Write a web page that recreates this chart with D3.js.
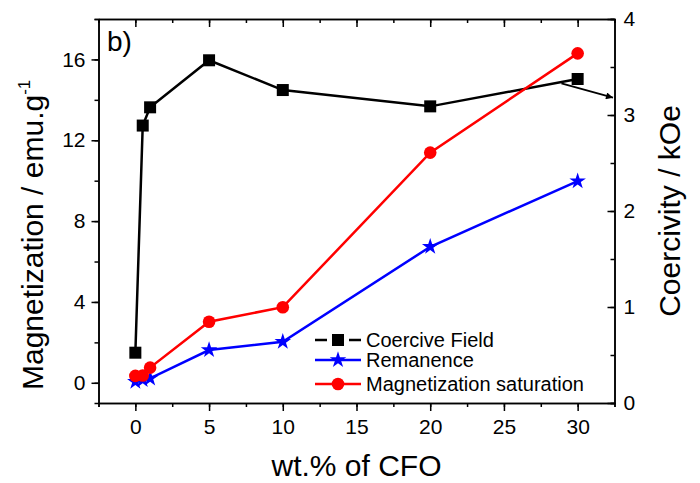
<!DOCTYPE html>
<html>
<head>
<meta charset="utf-8">
<script src="https://cdn.jsdelivr.net/npm/d3@7"></script>
<style>
  body { margin: 0; background: #fff; }
  svg { font-family: "Liberation Sans", Arial, sans-serif; }
  .domain { stroke-width: 1.5px; }
  .tick line { stroke-width: 1.5px; }
</style>
</head>
<body>
<svg id="chart" width="700" height="483"></svg>
<script>
// values
var wt = [0, 0.5, 1, 5, 10, 20, 30];
var coercive = [0.524, 2.89, 3.08, 3.57, 3.26, 3.09, 3.375];   // kOe, right axis
var remanence = [0.05, 0.14, 0.22, 1.62, 2.03, 6.73, 9.98];    // emu/g
var msat = [0.34, 0.36, 0.75, 3.02, 3.74, 11.39, 16.3];        // emu/g
var xTicks = [0, 5, 10, 15, 20, 25, 30];
var leftTicks = [0, 4, 8, 12, 16];
var rightTicks = [0, 1, 2, 3, 4];
var arrowFrom = [28.9, 3.33], arrowTo = [32.4, 3.18];
var legendNames = ["Coercive Field", "Remanence", "Magnetization saturation"];

var svg = d3.select("#chart");
var pLeft = 98.5, pRight = 614.5, pTop = 19, pBottom = 403;

var x = d3.scaleLinear().domain([-2.5, 32.5]).range([pLeft, pRight]);
var yL = d3.scaleLinear().domain([-1, 18]).range([pBottom, pTop]);
var yR = d3.scaleLinear().domain([0, 4]).range([pBottom, pTop]);

function drawAxes() {
  // minor ticks first
  svg.append("g").attr("transform", "translate(0," + pBottom + ")")
    .call(d3.axisBottom(x).tickValues(d3.range(-2.5, 32.6, 2.5)).tickSize(4).tickFormat(""));
  svg.append("g").attr("transform", "translate(0," + pTop + ")")
    .call(d3.axisTop(x).tickValues(d3.range(-2.5, 32.6, 2.5)).tickSize(-4).tickFormat(""));
  svg.append("g").attr("transform", "translate(" + pLeft + ",0)")
    .call(d3.axisLeft(yL).tickValues(d3.range(0, 18.1, 2)).tickSize(4).tickFormat(""));
  svg.append("g").attr("transform", "translate(" + pRight + ",0)")
    .call(d3.axisRight(yR).tickValues(d3.range(0, 4.01, 0.5)).tickSize(-4).tickFormat(""));

  // major ticks with labels
  svg.append("g").attr("class", "xAxis").attr("transform", "translate(0," + pBottom + ")")
    .call(d3.axisBottom(x).tickValues(xTicks).tickSize(8).tickPadding(8).tickSizeOuter(0));
  svg.append("g").attr("transform", "translate(0," + pTop + ")")
    .call(d3.axisTop(x).tickValues(xTicks).tickSize(-8).tickFormat("").tickSizeOuter(0));
  svg.append("g").attr("class", "yAxis").attr("transform", "translate(" + pLeft + ",0)")
    .call(d3.axisLeft(yL).tickValues(leftTicks).tickSize(7).tickPadding(6).tickSizeOuter(0));
  svg.append("g").attr("class", "yAxis").attr("transform", "translate(" + pRight + ",0)")
    .call(d3.axisRight(yR).tickValues(rightTicks).tickFormat(d3.format("d"))
      .tickSizeInner(-7).tickPadding(9).tickSizeOuter(0));

  svg.selectAll(".tick text").attr("font-size", 21).attr("font-family", "Liberation Sans, Arial, sans-serif").attr("fill", "#000");
  svg.selectAll(".domain").attr("stroke", "#000");
}

function marker(g, kind, cx, cy, color) {
  if (kind == "square") {
    g.append("rect").attr("x", cx - 6).attr("y", cy - 6).attr("width", 12).attr("height", 12).attr("fill", color);
  } else if (kind == "star") {
    g.append("path").attr("d", d3.symbol().type(d3.symbolStar).size(85)())
      .attr("transform", "translate(" + cx + "," + cy + ")").attr("fill", color);
  } else {
    g.append("circle").attr("cx", cx).attr("cy", cy).attr("r", 6.3).attr("fill", color);
  }
}

function drawSeries(vals, scale, color, kind) {
  var g = svg.append("g");
  var line = d3.line().x(function(d, i){ return x(wt[i]); }).y(function(d){ return scale(d); });
  g.append("path").datum(vals).attr("d", line).attr("fill", "none")
    .attr("stroke", color).attr("stroke-width", 2.5);
  vals.forEach(function(v, i){ marker(g, kind, x(wt[i]), scale(v), color); });
}

drawAxes();
drawSeries(coercive, yR, "#000", "square");
drawSeries(remanence, yL, "#0000ff", "star");
drawSeries(msat, yL, "#ff0000", "circle");

// arrow pointing to the right axis
svg.append("defs").append("marker").attr("id", "arr")
  .attr("viewBox", "0 0 10 10").attr("refX", 10).attr("refY", 5)
  .attr("markerWidth", 11).attr("markerHeight", 7).attr("orient", "auto")
  .attr("markerUnits", "userSpaceOnUse")
  .append("path").attr("d", "M0,0L10,5L0,10z").attr("fill", "#000");
svg.append("line")
  .attr("x1", x(arrowFrom[0])).attr("y1", yR(arrowFrom[1]))
  .attr("x2", x(arrowTo[0])).attr("y2", yR(arrowTo[1]))
  .attr("stroke", "#000").attr("stroke-width", 1.8).attr("marker-end", "url(#arr)");

// legend
var legY = [340, 360, 384];
var legColors = ["#000", "#0000ff", "#ff0000"];
var legKinds = ["square", "star", "circle"];
legendNames.forEach(function(name, i) {
  var g = svg.append("g");
  if (legKinds[i] == "square") {
    g.append("line").attr("x1", 315).attr("x2", 327).attr("y1", legY[i]).attr("y2", legY[i]).attr("stroke", "#000").attr("stroke-width", 2.5);
    g.append("line").attr("x1", 349).attr("x2", 361).attr("y1", legY[i]).attr("y2", legY[i]).attr("stroke", "#000").attr("stroke-width", 2.5);
  } else {
    g.append("line").attr("x1", 315).attr("x2", 361).attr("y1", legY[i]).attr("y2", legY[i]).attr("stroke", legColors[i]).attr("stroke-width", 2.5);
  }
  marker(g, legKinds[i], 338, legY[i], legColors[i]);
  g.append("text").attr("x", 366).attr("y", legY[i] + 7).attr("font-size", 20).text(name);
});

// panel label and axis titles
svg.append("text").attr("x", 107).attr("y", 51).attr("font-size", 28).text("b)");
svg.append("text").attr("x", (pLeft + pRight) / 2).attr("y", 476).attr("text-anchor", "middle")
  .attr("font-size", 30).text("wt.% of CFO");
var lt = svg.append("text").attr("transform", "translate(43,390) rotate(-90)").attr("font-size", 30);
lt.append("tspan").text("Magnetization / emu.g");
lt.append("tspan").attr("font-size", 17).attr("dy", -13).text("-1");
svg.append("text").attr("transform", "translate(680," + ((pTop + pBottom) / 2) + ") rotate(-90)")
  .attr("text-anchor", "middle").attr("font-size", 30).text("Coercivity / kOe");
</script>
</body>
</html>
